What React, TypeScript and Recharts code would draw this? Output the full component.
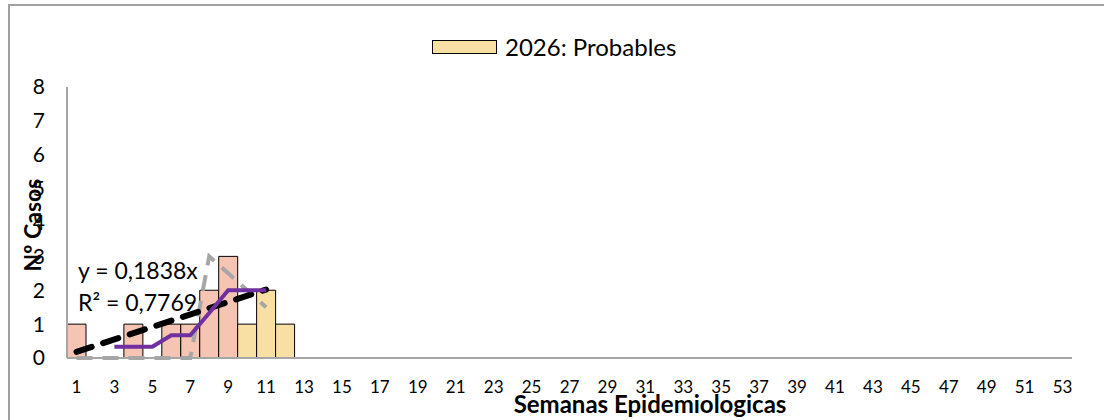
import { Bar, ComposedChart, Legend, Line, XAxis, YAxis } from "recharts";

// semanas epidemiologicas 1..53
const weeks = Array.from({ length: 53 }, (_, i) => i + 1);

// casos confirmados (rosa), semanas 1-9
const confirmados = [1, null, null, 1, null, 1, 1, 2, 3];
// 2026: probables (amarillo), semanas 10-12
const probables = [null, null, null, null, null, null, null, null, null, 1, 2, 1];
// media movil (morada)
const mediaMovil = [null, null, 0.33, 0.33, 0.33, 0.67, 0.67, 1.33, 2, 2, 2];
// serie gris discontinua
const gris = [0, 0, 0, 0, 0, 0, 0, 3, 2.5, 2, 1.5];
// tendencia lineal y = 0,1838x (extremos)
const tendencia = [0.18, null, null, null, null, null, null, null, null, null, 2.02];

const yTicks = [0, 1, 2, 3, 4, 5, 6, 7, 8];

const data = weeks.map((w, i) => ({
    week: w,
    confirmados: confirmados[i] ?? null,
    probables: probables[i] ?? null,
    mediaMovil: mediaMovil[i] ?? null,
    gris: gris[i] ?? null,
    tendencia: tendencia[i] ?? null,
}));

const FONT = "Lato, 'Open Sans', sans-serif";
const AXIS = "#a6a6a6";

function LegendContent() {
    return (
        <div style={{ display: "flex", alignItems: "center", fontFamily: FONT, fontSize: 24, color: "#000", lineHeight: "28px" }}>
            <span style={{ width: 63, height: 12, background: "#f8e0a4", border: "1px solid #000", marginRight: 8 }} />
            <span>2026: Probables</span>
        </div>
    );
}

export default function App() {
    return (
        <div style={{ position: "absolute", left: 0, top: 0, width: 1104, height: 420, overflow: "hidden", background: "#fff" }}>
            <div style={{ position: "absolute", left: 8, top: 4, width: 1200, height: 500, border: "2px solid #a0a0a0" }} />
            <div style={{ position: "absolute", left: 0, top: 0 }}>
                <ComposedChart
                    width={1104}
                    height={420}
                    data={data}
                    margin={{ top: 87, right: 32, bottom: 32, left: 20 }}
                    barCategoryGap={0}
                    barGap={0}
                >
                    <XAxis
                        dataKey="week"
                        interval={1}
                        axisLine={{ stroke: AXIS, strokeWidth: 2 }}
                        tickLine={false}
                        tickMargin={17}
                        height={30}
                        tick={{ fontSize: 17, fill: "#000", fontFamily: FONT }}
                    />
                    <YAxis
                        domain={[0, 8]}
                        ticks={yTicks}
                        width={47}
                        axisLine={{ stroke: AXIS, strokeWidth: 2 }}
                        tickLine={false}
                        tickMargin={16}
                        tick={{ fontSize: 21, fill: "#000", fontFamily: FONT }}
                    />
                    <Legend
                        verticalAlign="middle"
                        align="center"
                        wrapperStyle={{ top: 33, left: 432, width: 300 }}
                        content={LegendContent}
                    />
                    <Bar dataKey="confirmados" stackId="a" fill="#f6c4b3" stroke="#000" strokeWidth={1} legendType="none" isAnimationActive={false} />
                    <Bar dataKey="probables" stackId="a" fill="#f8e0a4" stroke="#000" strokeWidth={1} isAnimationActive={false} />
                    <Line dataKey="gris" stroke="#a6a6a6" strokeWidth={4} strokeDasharray="16 10" dot={false} legendType="none" isAnimationActive={false} />
                    <Line dataKey="tendencia" connectNulls stroke="#000" strokeWidth={6} strokeDasharray="16 12" strokeLinecap="round" dot={false} legendType="none" isAnimationActive={false} />
                    <Line dataKey="mediaMovil" stroke="#7030a0" strokeWidth={4} dot={false} legendType="none" isAnimationActive={false} />
                </ComposedChart>
            </div>
            <div style={{ position: "absolute", left: 78, top: 254, fontFamily: FONT, fontSize: 23, lineHeight: "32px", color: "#000", whiteSpace: "nowrap" }}>
                y = 0,1838x
                <br />
                R² = 0,7769
            </div>
            <div
                style={{
                    position: "absolute",
                    left: 32,
                    top: 225,
                    transform: "translate(-50%, -50%) rotate(-90deg)",
                    fontFamily: FONT,
                    fontWeight: 700,
                    fontSize: 23,
                    whiteSpace: "nowrap",
                }}
            >
                Nº Casos
            </div>
            <div
                style={{
                    position: "absolute",
                    left: 650,
                    top: 403,
                    transform: "translate(-50%, -50%)",
                    fontFamily: FONT,
                    fontWeight: 700,
                    fontSize: 24,
                    whiteSpace: "nowrap",
                }}
            >
                Semanas Epidemiologicas
            </div>
        </div>
    );
}
